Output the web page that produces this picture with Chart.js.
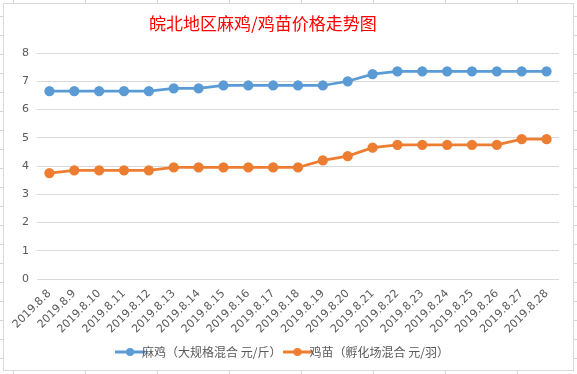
<!doctype html>
<html>
<head>
    <meta charset="UTF-8"/>
    <title>皖北地区麻鸡/鸡苗价格走势图</title>
    <style type="text/css">
        body {
            margin: 0;
            padding: 0;
            width: 577px;
            height: 374px;
            overflow: hidden;
            background-color: #fff;
            background-image:
                linear-gradient(to right, #d4d4d4 1px, transparent 1px),
                linear-gradient(to bottom, #d4d4d4 1px, transparent 1px);
            background-size: 72px 19px;
            background-position: 13px 16px;
        }
        .chartBox {
            position: absolute;
            left: 3px;
            top: 3px;
            width: 569px;
            height: 366px;
            border: 1px solid #d9d9d9;
            background-color: #fff;
        }
        .title {
            position: absolute;
            left: 145px;
            top: 9px;
            font-family: "Noto Sans CJK SC", sans-serif;
            font-size: 17px;
            line-height: 20px;
            color: #ff0000;
            white-space: nowrap;
        }
    </style>
</head>
<body>
    <div class="chartBox">
        <canvas id="myChart"></canvas>
        <div class="title">皖北地区麻鸡/鸡苗价格走势图</div>
    </div>

    <script src="https://cdn.jsdelivr.net/npm/chart.js"></script>

    <script>
        // Data
        const labels = ['2019.8.8', '2019.8.9', '2019.8.10', '2019.8.11', '2019.8.12', '2019.8.13', '2019.8.14',
            '2019.8.15', '2019.8.16', '2019.8.17', '2019.8.18', '2019.8.19', '2019.8.20', '2019.8.21',
            '2019.8.22', '2019.8.23', '2019.8.24', '2019.8.25', '2019.8.26', '2019.8.27', '2019.8.28'];
        const majiData = [6.65, 6.65, 6.65, 6.65, 6.65, 6.75, 6.75, 6.85, 6.85, 6.85, 6.85, 6.85, 7.0, 7.25,
            7.35, 7.35, 7.35, 7.35, 7.35, 7.35, 7.35];
        const jimiaoData = [3.75, 3.85, 3.85, 3.85, 3.85, 3.95, 3.95, 3.95, 3.95, 3.95, 3.95, 4.2, 4.35, 4.65,
            4.75, 4.75, 4.75, 4.75, 4.75, 4.95, 4.95];
        const yTicks = [0, 1, 2, 3, 4, 5, 6, 7, 8];

        const blue = '#5b9bd5';
        const orange = '#ed7d31';

        // legend marker: short line with a dot in the middle
        function legendMarker(color) {
            const c = document.createElement('canvas');
            c.width = 30;
            c.height = 10;
            const ctx = c.getContext('2d');
            ctx.strokeStyle = color;
            ctx.lineWidth = 3;
            ctx.beginPath();
            ctx.moveTo(0, 5);
            ctx.lineTo(30, 5);
            ctx.stroke();
            ctx.fillStyle = color;
            ctx.beginPath();
            ctx.arc(15, 5, 4, 0, Math.PI * 2);
            ctx.fill();
            return c;
        }

        const data = {
            labels: labels,
            datasets: [
                {
                    label: '麻鸡（大规格混合 元/斤）',
                    data: majiData,
                    borderColor: blue,
                    backgroundColor: blue,
                    borderWidth: 2.75,
                    pointRadius: 3.75,
                    pointHoverRadius: 3.75,
                    tension: 0
                },
                {
                    label: '鸡苗（孵化场混合 元/羽）',
                    data: jimiaoData,
                    borderColor: orange,
                    backgroundColor: orange,
                    borderWidth: 2.75,
                    pointRadius: 3.75,
                    pointHoverRadius: 3.75,
                    tension: 0
                }
            ]
        };

        const markers = [legendMarker(blue), legendMarker(orange)];

        const config = {
            type: 'line',
            data: data,
            options: {
                responsive: true,
                maintainAspectRatio: false,
                animation: false,
                layout: {
                    padding: { left: 10, right: 14, top: 49, bottom: 2 }
                },
                plugins: {
                    title: { display: false },
                    legend: {
                        position: 'bottom',
                        labels: {
                            color: '#595959',
                            font: { family: '"Noto Sans CJK SC"', size: 12 },
                            usePointStyle: true,
                            boxWidth: 30,
                            boxHeight: 10,
                            padding: 10,
                            generateLabels: function(chart) {
                                return chart.data.datasets.map((ds, i) => ({
                                    text: ds.label,
                                    fontColor: '#595959',
                                    pointStyle: markers[i],
                                    datasetIndex: i,
                                    lineWidth: 0,
                                    hidden: false
                                }));
                            }
                        }
                    },
                    tooltip: { enabled: false }
                },
                scales: {
                    x: {
                        offset: true,
                        grid: { display: false },
                        border: { display: false },
                        ticks: {
                            color: '#595959',
                            font: { family: '"DejaVu Sans"', size: 11 },
                            minRotation: 45,
                            maxRotation: 45,
                            autoSkip: false,
                            padding: 0
                        }
                    },
                    y: {
                        min: 0,
                        max: 8,
                        afterBuildTicks: function(axis) {
                            axis.ticks = yTicks.map(v => ({ value: v }));
                        },
                        grid: { color: '#d9d9d9', drawTicks: false },
                        border: { display: false },
                        ticks: {
                            color: '#595959',
                            font: { family: '"DejaVu Sans"', size: 11 },
                            padding: 8
                        }
                    }
                }
            }
        };

        const myChart = new Chart(document.getElementById('myChart'), config);
    </script>
</body>
</html>
